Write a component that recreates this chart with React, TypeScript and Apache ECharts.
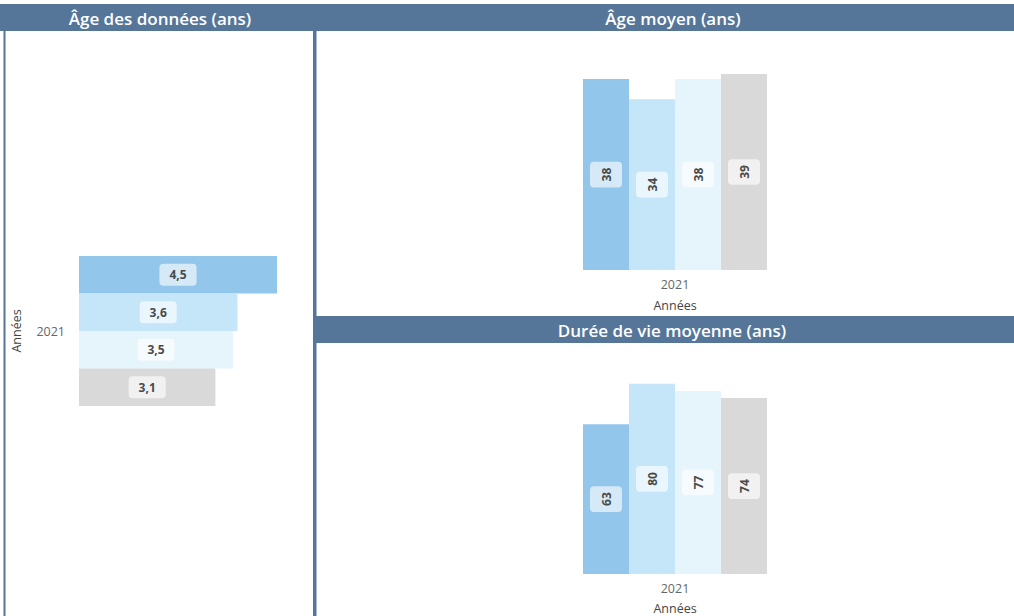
import React, { useEffect, useRef } from "react";
import * as echarts from "echarts";

const categories = ["2021"];
const seriesNames = ["Série 1", "Série 2", "Série 3", "Série 4"];
const barColors = ["#92C6EB", "#C5E6F9", "#E6F4FC", "#D9D9D9"];
const ageDonnees = [4.5, 3.6, 3.5, 3.1];
const ageMoyen = [38, 34, 38, 39];
const dureeVie = [63, 80, 77, 74];
const axisName = "Années";
const titles = ["Âge des données (ans)", "Âge moyen (ans)", "Durée de vie moyenne (ans)"];

const HEADER = "#557699";
const FONT = "'Open Sans', 'Noto Sans', sans-serif";

const fmt = (p: any) => String(p.value).replace(".", ",");

export default function App() {
  const ref = useRef<HTMLDivElement>(null);
  useEffect(() => {
    if (!ref.current) return;
    const chart = echarts.init(ref.current, null, { renderer: "svg" });

    const labelBase = {
      show: true,
      position: "inside",
      color: "#4a4a4a",
      fontFamily: FONT,
      fontWeight: "bold" as const,
      fontSize: 12,
      backgroundColor: "rgba(255,255,255,0.62)",
      borderRadius: 4,
      formatter: fmt,
    };

    const series: any[] = [];
    seriesNames.forEach((name, i) => {
      series.push({
        type: "bar",
        name,
        xAxisIndex: 0,
        yAxisIndex: 0,
        data: [ageDonnees[i]],
        itemStyle: { color: barColors[i] },
        barGap: "0%",
        barCategoryGap: "0%",
        label: { ...labelBase, padding: [5, 10] },
      });
      series.push({
        type: "bar",
        name,
        xAxisIndex: 1,
        yAxisIndex: 1,
        data: [ageMoyen[i]],
        itemStyle: { color: barColors[i] },
        barGap: "0%",
        barCategoryGap: "0%",
        label: { ...labelBase, rotate: 90, lineHeight: 16, padding: [8, 6] },
      });
      series.push({
        type: "bar",
        name,
        xAxisIndex: 2,
        yAxisIndex: 2,
        data: [dureeVie[i]],
        itemStyle: { color: barColors[i] },
        barGap: "0%",
        barCategoryGap: "0%",
        label: { ...labelBase, rotate: 90, lineHeight: 16, padding: [8, 6] },
      });
    });

    const catLabel = { color: "#666", fontFamily: FONT, fontSize: 12.5 };
    const nameStyle = { color: "#444", fontFamily: FONT, fontSize: 12.5 };

    const titleStyle = (text: string) => ({
      text,
      fill: "#fff",
      fontSize: 17,
      fontFamily: FONT,
      fontWeight: 600,
      align: "center",
      verticalAlign: "middle",
    });

    chart.setOption({
      animation: false,
      grid: [
        { left: 79, top: 256, width: 220, height: 150 },
        { left: 583, top: 69, width: 184, height: 201 },
        { left: 583, top: 360, width: 184, height: 215 },
      ],
      xAxis: [
        { gridIndex: 0, type: "value", min: 0, max: 5, show: false },
        {
          gridIndex: 1,
          type: "category",
          data: categories,
          axisLine: { show: false },
          axisTick: { show: false },
          axisLabel: { ...catLabel, margin: 8 },
          name: axisName,
          nameLocation: "middle",
          nameGap: 29,
          nameTextStyle: nameStyle,
        },
        {
          gridIndex: 2,
          type: "category",
          data: categories,
          axisLine: { show: false },
          axisTick: { show: false },
          axisLabel: { ...catLabel, margin: 8 },
          name: axisName,
          nameLocation: "middle",
          nameGap: 28,
          nameTextStyle: nameStyle,
        },
      ],
      yAxis: [
        {
          gridIndex: 0,
          type: "category",
          data: categories,
          inverse: true,
          axisLine: { show: false },
          axisTick: { show: false },
          axisLabel: { ...catLabel, margin: 14 },
          name: axisName,
          nameLocation: "middle",
          nameGap: 56,
          nameRotate: 90,
          nameTextStyle: nameStyle,
        },
        { gridIndex: 1, type: "value", min: 0, max: 40, show: false },
        { gridIndex: 2, type: "value", min: 0, max: 90, show: false },
      ],
      graphic: [
        { type: "rect", shape: { x: 0, y: 4, width: 1014, height: 27 }, style: { fill: HEADER } },
        { type: "rect", shape: { x: 316, y: 316, width: 698, height: 27 }, style: { fill: HEADER } },
        { type: "rect", shape: { x: 3.5, y: 31, width: 2, height: 585 }, style: { fill: HEADER } },
        { type: "rect", shape: { x: 313, y: 31, width: 3.5, height: 585 }, style: { fill: HEADER } },
        { type: "text", x: 160, y: 18, style: titleStyle(titles[0]) },
        { type: "text", x: 673, y: 18, style: titleStyle(titles[1]) },
        { type: "text", x: 672, y: 330, style: titleStyle(titles[2]) },
      ],
      series,
    });

    return () => chart.dispose();
  }, []);

  return (
    <div
      ref={ref}
      style={{ position: "absolute", left: 0, top: 0, width: 1014, height: 616, background: "#fff" }}
    />
  );
}
